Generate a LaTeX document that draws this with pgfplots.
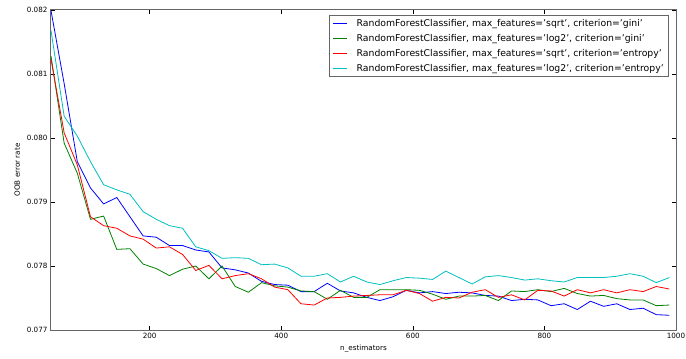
\documentclass[border=0pt]{standalone}
\usepackage{fontspec}
\setmainfont{DejaVu Sans}
\usepackage{pgfplots}
\usepackage{pgfplotstable}
\pgfplotsset{compat=1.18}

\definecolor{mplblue}{rgb}{0,0,1}
\definecolor{mplgreen}{rgb}{0,0.5,0}
\definecolor{mplred}{rgb}{1,0,0}
\definecolor{mplcyan}{rgb}{0,0.75,0.75}

% OOB error rate per number of trees, one column per configuration
\pgfplotstableread{
n    sqrtgini  log2gini  sqrtent   log2ent
50   0.08199   0.08128   0.08123   0.08168
70   0.08085   0.07992   0.08008   0.08034
90   0.07963   0.07945   0.07958   0.08003
110  0.07922   0.07873   0.07877   0.07963
130  0.07897   0.07878   0.07863   0.07927
150  0.07907   0.07826   0.07859   0.07919
170  0.07877   0.07827   0.07847   0.07912
190  0.07847   0.07803   0.07842   0.07885
210  0.07845   0.07796   0.07828   0.07873
230  0.07832   0.07785   0.07830   0.07863
250  0.07832   0.07795   0.07818   0.07859
270  0.07825   0.07800   0.07793   0.07830
290  0.07822   0.07780   0.07801   0.07824
310  0.07797   0.07800   0.07780   0.07812
330  0.07794   0.07768   0.07785   0.07813
350  0.07789   0.07759   0.07788   0.07812
370  0.07776   0.07774   0.07780   0.07802
390  0.07771   0.07769   0.07767   0.07803
410  0.07770   0.07767   0.07763   0.07797
430  0.07760   0.07761   0.07741   0.07784
450  0.07760   0.07760   0.07739   0.07784
470  0.07773   0.07748   0.07750   0.07788
490  0.07761   0.07762   0.07751   0.07775
510  0.07758   0.07751   0.07753   0.07784
530  0.07751   0.07751   0.07754   0.07775
550  0.07746   0.07763   0.07755   0.07771
570  0.07752   0.07763   0.07755   0.07777
590  0.07762   0.07763   0.07762   0.07782
610  0.07758   0.07762   0.07757   0.07781
630  0.07760   0.07756   0.07745   0.07779
650  0.07757   0.07748   0.07751   0.07792
670  0.07759   0.07753   0.07750   0.07782
690  0.07758   0.07753   0.07759   0.07772
710  0.07754   0.07754   0.07763   0.07783
730  0.07753   0.07746   0.07751   0.07785
750  0.07746   0.07761   0.07755   0.07782
770  0.07748   0.07760   0.07747   0.07778
790  0.07747   0.07763   0.07762   0.07780
810  0.07738   0.07760   0.07761   0.07777
830  0.07741   0.07765   0.07753   0.07775
850  0.07732   0.07757   0.07763   0.07782
870  0.07745   0.07753   0.07758   0.07782
890  0.07737   0.07754   0.07763   0.07782
910  0.07741   0.07749   0.07758   0.07784
930  0.07732   0.07747   0.07763   0.07788
950  0.07734   0.07747   0.07760   0.07784
970  0.07724   0.07738   0.07768   0.07774
990  0.07723   0.07739   0.07764   0.07782
}\oobdata

% gap between a legend line sample and its text
\newcommand{\lgap}{\hspace*{7pt}}

\begin{document}
\begin{tikzpicture}
\begin{axis}[
  name=main,
  scale only axis,
  width=625pt, height=320pt,
  xmin=50, xmax=1000,
  ymin=0.077, ymax=0.082,
  xtick={200,400,600,800,1000},
  ytick={0.077,0.078,0.079,0.080,0.081,0.082},
  scaled y ticks=false,
  tick align=inside,
  major tick length=4pt,
  tick style={black, line width=0.5pt},
  axis line style={black!60, line width=1pt},
  /pgf/number format/assume math mode=true,
  x tick label style={/pgf/number format/set thousands separator={}},
  y tick label style={/pgf/number format/.cd, fixed, precision=3, fixed zerofill},
  tick label style={font=\fontsize{7.2}{8.5}\selectfont},
  label style={font=\fontsize{7.2}{8.5}\selectfont},
  xlabel={n\_estimators},
  ylabel={OOB error rate},
  xlabel style={yshift=1pt},
  legend cell align=left,
  legend image code/.code={\draw[#1, line width=0.9pt] (0pt,0pt) -- (14pt,0pt);},
  legend style={
    at={(1,1)}, anchor=north east, xshift=-7pt, yshift=-5pt,
    draw=black!60, line width=0.6pt,
    font=\fontsize{9.3}{11}\selectfont,
    row sep=2.4pt, inner xsep=3pt, inner ysep=2pt,
  },
  every axis plot/.append style={line width=0.8pt},
]
\addplot[mplblue]  table[x=n, y=sqrtgini] {\oobdata};
\addlegendentry{\lgap RandomForestClassifier, max\_features='sqrt', criterion='gini'}
\addplot[mplgreen] table[x=n, y=log2gini] {\oobdata};
\addlegendentry{\lgap RandomForestClassifier, max\_features='log2', criterion='gini'}
\addplot[mplred]   table[x=n, y=sqrtent]  {\oobdata};
\addlegendentry{\lgap RandomForestClassifier, max\_features='sqrt', criterion='entropy'}
\addplot[mplcyan]  table[x=n, y=log2ent]  {\oobdata};
\addlegendentry{\lgap RandomForestClassifier, max\_features='log2', criterion='entropy'}
\end{axis}
\pgfresetboundingbox
\path ([shift={(-51pt,-28pt)}]main.south west) rectangle ([shift={(10pt,10pt)}]main.north east);
\end{tikzpicture}
\end{document}
